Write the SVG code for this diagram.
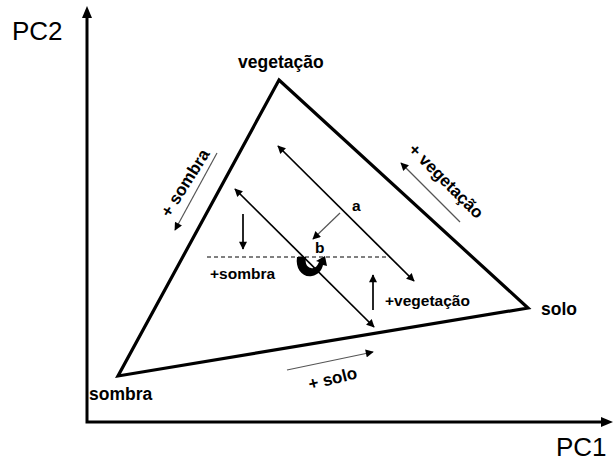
<svg xmlns="http://www.w3.org/2000/svg" width="613" height="464" viewBox="0 0 613 464">
<defs>
<style>
text{font-family:"Liberation Sans",Arial,sans-serif;fill:#000}
.ax{font-size:26px}
.lb{font-size:17.5px;font-weight:bold}
.in{font-size:15.5px;font-weight:bold}
.rl{font-size:17px;font-weight:bold}
.axis{stroke:#000;stroke-width:3;fill:none}
.tri{stroke:#000;stroke-width:3.2;fill:none;stroke-linejoin:miter}
.dbl{stroke:#000;stroke-width:1.7;fill:none}
.thin{stroke:#555;stroke-width:1.2;fill:none}
</style>
<marker id="ah" viewBox="0 0 10 10" refX="9" refY="5" markerWidth="10" markerHeight="8" markerUnits="userSpaceOnUse" orient="auto"><path d="M0,0 L10,5 L0,10 Z" fill="#000"/></marker>
<marker id="ahs" viewBox="0 0 10 10" refX="9" refY="5" markerWidth="11" markerHeight="8" markerUnits="userSpaceOnUse" orient="auto-start-reverse"><path d="M0,0 L10,5 L0,10 Z" fill="#000"/></marker>
</defs>

<g id="axes">
<path class="axis" d="M87,14 L87,422 L606,422"/>
<path d="M87,6 L92,18 L82,18 Z" fill="#000"/>
<path d="M613,422 L601,417 L601,427 Z" fill="#000"/>
<text class="ax" x="12" y="40">PC2</text>
<text class="ax" x="556" y="456">PC1</text>
</g>

<g id="triangle">
<path class="tri" d="M279,80 L528,308 L118,376 Z"/>
</g>

<g id="node-vegetacao"><text class="lb" x="238" y="68">vegetação</text></g>
<g id="node-solo"><text class="lb" x="541" y="315">solo</text></g>
<g id="node-sombra"><text class="lb" x="89" y="400">sombra</text></g>

<g id="connectors">
<line class="dbl" x1="278" y1="146" x2="414" y2="281" marker-start="url(#ahs)" marker-end="url(#ahs)"/>
<line class="dbl" x1="235" y1="189" x2="374" y2="327" marker-start="url(#ahs)" marker-end="url(#ahs)"/>
<line class="thin" x1="340" y1="213" x2="313" y2="239" marker-end="url(#ah)"/>
<line class="dbl" x1="243" y1="214" x2="243" y2="249" marker-end="url(#ah)"/>
<line class="dbl" x1="373" y1="310" x2="373" y2="275" marker-end="url(#ah)"/>
<line x1="207" y1="257" x2="390" y2="257" stroke="#000" stroke-width="1" stroke-dasharray="4,3"/>
<line class="thin" x1="217" y1="153" x2="175" y2="230" marker-end="url(#ah)"/>
<line class="thin" x1="460" y1="222" x2="401" y2="163" marker-end="url(#ah)"/>
<line class="thin" x1="287" y1="370" x2="373" y2="352" marker-end="url(#ah)"/>
<path d="M297,257 C295,269 303,278 312,276 C318,275 322,270 323,265 L327,266 L325,256 L316,261 L319,262 C317,267 314,269 311,268 C306,267 305,262 306,257 Z" fill="#000"/>
</g>

<g id="labels">
<text class="in" x="352" y="211">a</text>
<text class="in" x="315" y="253">b</text>
<text class="in" x="210" y="279">+sombra</text>
<text class="in" x="385" y="306">+vegetação</text>
<text class="rl" text-anchor="middle" transform="translate(190,186) rotate(-58)">+ sombra</text>
<text class="rl" text-anchor="middle" transform="translate(442,185) rotate(45)">+ vegetação</text>
<text class="rl" text-anchor="middle" transform="translate(334,384) rotate(-14)">+ solo</text>
</g>
</svg>
